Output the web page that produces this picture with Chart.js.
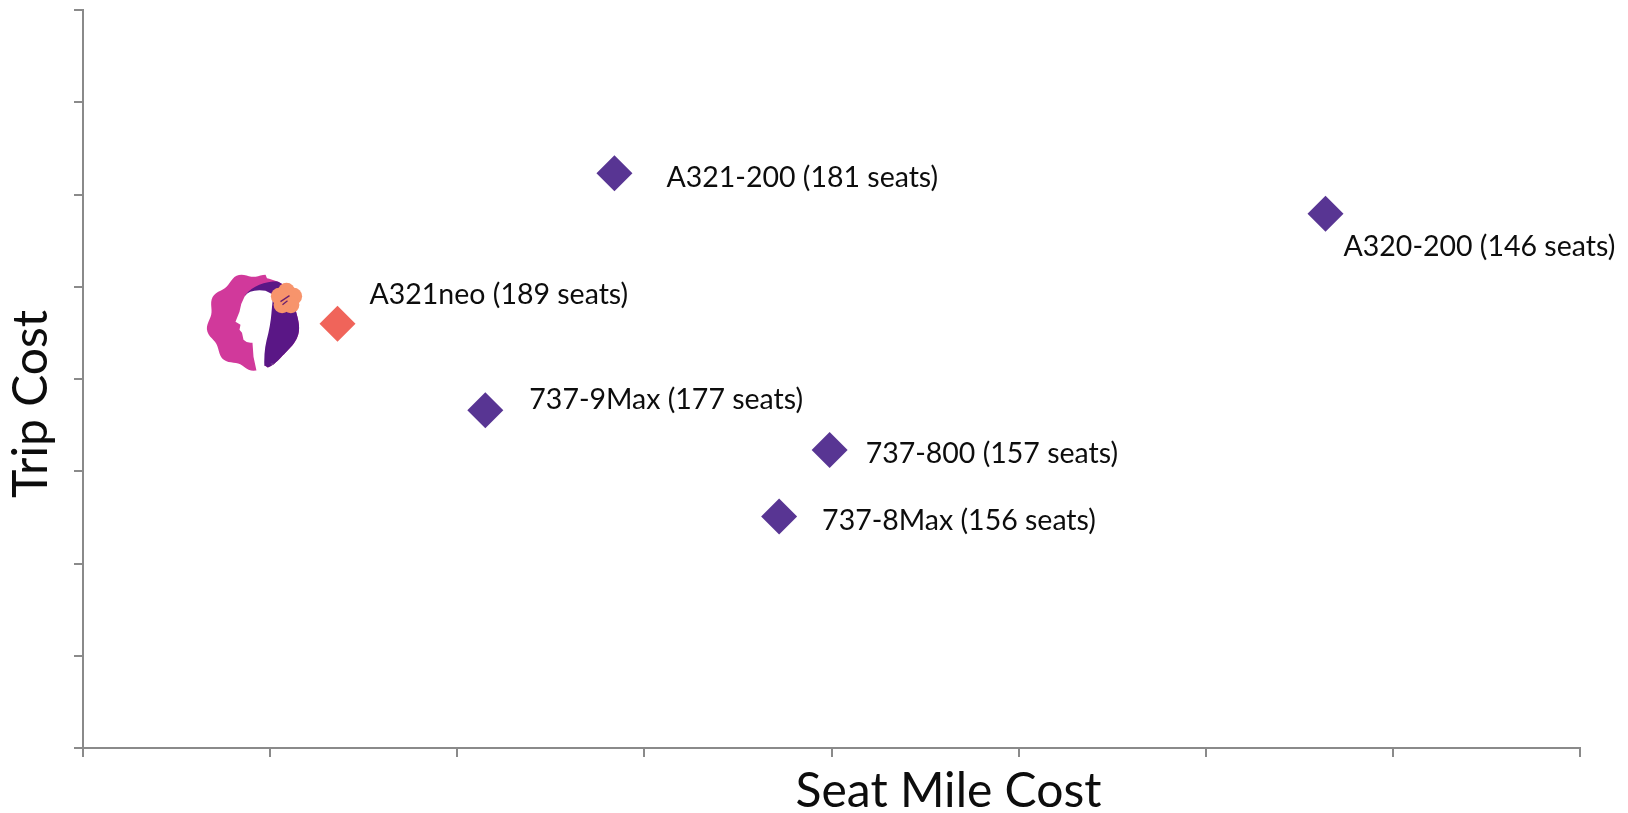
<!DOCTYPE html>
<html>
<head>
<meta charset="utf-8">
<title>Trip cost vs seat mile cost</title>
<script src="https://cdn.jsdelivr.net/npm/chart.js@4"></script>
<style>
  html, body { margin: 0; padding: 0; background: #ffffff; }
  #wrap { width: 1628px; height: 813px; }
</style>
</head>
<body>
<div id="wrap"><canvas id="cost-chart"></canvas></div>
<script>
const aircraft = [
  "A321-200 (181 seats)",
  "A320-200 (146 seats)",
  "A321neo (189 seats)",
  "737-9Max (177 seats)",
  "737-800 (157 seats)",
  "737-8Max (156 seats)",
];
const seatMileCost = [2.84, 6.64, 1.36, 2.15, 3.99, 3.72];
const tripCost = [6.23, 5.79, 4.60, 3.66, 3.23, 2.51];
const highlighted = "A321neo (189 seats)";
const axisMin = 0;
const axisMax = 8;
const xTitle = "Seat Mile Cost";
const yTitle = "Trip Cost";

const axisColor = "#8a8a8a";
const purple = "#583593";
const coral = "#f0645a";

// where each label sits relative to its marker (dx, baseline dy)
const labelOffsets = [[52, 14], [18, 42], [32, -20], [44, -1], [36, 13], [43, 14]];

const canvas = document.getElementById("cost-chart");

// rough drawing of the airline logo that sits next to the highlighted aircraft
function drawLogo(ctx, cx, cy) {
  ctx.save();
  ctx.translate(cx, cy);

  const outline = new Path2D();
  const steps = 120;
  for (let i = 0; i <= steps; i++) {
    const a = (i / steps) * Math.PI * 2;
    const wave = Math.cos(a) < 0.3 ? 2.2 * Math.sin(a * 9) : 1.4 * Math.sin(a * 6);
    const x = Math.cos(a) * (45 + wave);
    const y = 1 + Math.sin(a) * (47 + wave);
    if (i === 0) outline.moveTo(x, y);
    else outline.lineTo(x, y);
  }
  outline.closePath();
  ctx.fillStyle = "#d1399b";
  ctx.fill(outline);

  ctx.save();
  ctx.clip(outline);
  ctx.beginPath();
  ctx.moveTo(-8, -26);
  ctx.bezierCurveTo(0, -36, 16, -41, 30, -39);
  ctx.lineTo(70, -39);
  ctx.lineTo(70, 70);
  ctx.lineTo(8, 70);
  ctx.lineTo(2, 20);
  ctx.closePath();
  ctx.fillStyle = "#5a1786";
  ctx.fill();
  ctx.restore();

  ctx.beginPath();
  ctx.moveTo(12, -30);
  ctx.quadraticCurveTo(-4, -32, -9, -24);
  ctx.quadraticCurveTo(-13, -17, -14, -9);
  ctx.lineTo(-18, 1);
  ctx.lineTo(-13, 4);
  ctx.lineTo(-14, 9);
  ctx.lineTo(-11.5, 12);
  ctx.lineTo(-10, 19);
  ctx.quadraticCurveTo(-6, 23, -1, 22);
  ctx.lineTo(0, 36);
  ctx.lineTo(3, 50);
  ctx.lineTo(11, 50);
  ctx.quadraticCurveTo(10, 32, 13, 20);
  ctx.quadraticCurveTo(17, 5, 18, -8);
  ctx.quadraticCurveTo(19, -20, 20, -26);
  ctx.closePath();
  ctx.fillStyle = "#ffffff";
  ctx.fill();

  ctx.fillStyle = "#f7946c";
  for (let i = 0; i < 5; i++) {
    const a = -Math.PI / 2 + (i * Math.PI * 2) / 5;
    ctx.beginPath();
    ctx.arc(33 + Math.cos(a) * 7.5, -22 + Math.sin(a) * 7.5, 8.5, 0, Math.PI * 2);
    ctx.fill();
  }
  ctx.strokeStyle = "#6a2070";
  ctx.lineWidth = 1.3;
  ctx.beginPath();
  ctx.moveTo(27, -19);
  ctx.lineTo(36, -25);
  ctx.moveTo(29, -16);
  ctx.lineTo(34, -20);
  ctx.stroke();

  ctx.fillStyle = "#8a6a9a";
  ctx.font = "5px Lato, sans-serif";
  ctx.fillText("™", 17, 46);
  ctx.restore();
}

const annotationPlugin = {
  id: "costAnnotations",
  afterDatasetsDraw(chart) {
    const ctx = chart.ctx;
    const area = chart.chartArea;
    const points = chart.getDatasetMeta(0).data;

    ctx.save();
    ctx.fillStyle = "#0d0d0d";
    ctx.font = "28.5px Lato, sans-serif";
    ctx.textBaseline = "alphabetic";
    ctx.textAlign = "left";
    points.forEach((pt, i) => {
      const [dx, dy] = labelOffsets[i];
      ctx.fillText(aircraft[i], pt.x + dx, pt.y + dy);
      if (aircraft[i] === highlighted) drawLogo(ctx, pt.x - 84, pt.y - 3);
    });

    ctx.font = "48px Lato, sans-serif";
    ctx.textAlign = "center";
    ctx.fillText(xTitle, (area.left + area.right) / 2 + 117, area.bottom + 59);

    ctx.translate(area.left - 36, (area.top + area.bottom) / 2 + 25);
    ctx.rotate(-Math.PI / 2);
    ctx.fillText(yTitle, 0, 0);
    ctx.restore();
  },
};

const axisStyle = {
  type: "linear",
  min: axisMin,
  max: axisMax,
  ticks: { display: false, stepSize: 1 },
  grid: { drawOnChartArea: false, drawTicks: true, tickLength: 9, color: axisColor, lineWidth: 2 },
  border: { display: true, color: axisColor, width: 2 },
};

new Chart(canvas, {
  type: "scatter",
  data: {
    datasets: [
      {
        label: "Aircraft",
        data: aircraft.map((name, i) => ({ x: seatMileCost[i], y: tripCost[i] })),
        pointStyle: "rectRot",
        pointRadius: 18,
        pointHoverRadius: 18,
        borderWidth: 0,
        backgroundColor: aircraft.map((name) => (name === highlighted ? coral : purple)),
      },
    ],
  },
  options: {
    responsive: true,
    maintainAspectRatio: false,
    animation: false,
    layout: { autoPadding: false, padding: { left: 74, right: 48, top: 10, bottom: 56 } },
    plugins: { legend: { display: false }, tooltip: { enabled: false } },
    scales: { x: axisStyle, y: axisStyle },
  },
  plugins: [annotationPlugin],
});
</script>
</body>
</html>
